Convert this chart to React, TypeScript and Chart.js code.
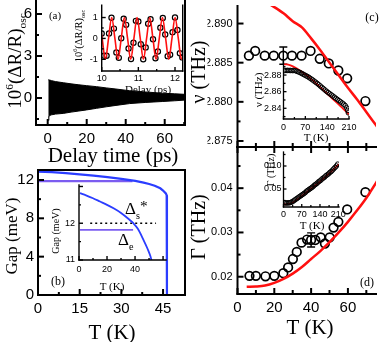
import React, { useEffect, useRef } from 'react';
import { Chart, registerables } from 'chart.js';
Chart.register(...registerables);

const W = 382, H = 342;
const SANS = "'Liberation Sans', Arial, sans-serif";
const SERIF = "'Liberation Serif', 'Times New Roman', serif";
const RED = '#ff1010';
const BLUE = '#2b3dff';
const PURPLE = '#7b5cf0';

// ---------- (a) main: oscillation envelope ----------
const A_T = [0.3, 0.6, 1, 2, 4, 8, 12, 16, 20, 25, 30, 35, 42, 50, 59, 65, 70.4];
const A_UP = [1.30, 1.30, 1.28, 1.24, 1.17, 1.09, 1.01, 0.94, 0.88, 0.81, 0.72, 0.64, 0.52, 0.43, 0.34, 0.30, 0.26];
const A_LO = [-1.60, -1.35, -1.25, -1.20, -1.15, -1.10, -1.01, -0.93, -0.85, -0.74, -0.63, -0.53, -0.40, -0.32, -0.25, -0.20, -0.15];
const A_XT = [0, 20, 40, 60];
const A_YT = [0, 3, 6];

// ---------- (a) inset ----------
const AI_T = [10.000, 10.067, 10.133, 10.200, 10.267, 10.333, 10.400, 10.467, 10.533, 10.600, 10.667, 10.733, 10.800, 10.867, 10.933, 11.000, 11.067, 11.133, 11.200, 11.267, 11.333, 11.400, 11.467, 11.533, 11.600, 11.667, 11.733, 11.800, 11.867, 11.933, 12.000, 12.067, 12.133, 12.200];
const AI_V = [0.24, -0.83, -0.83, 0.24, 0.99, 0.47, -0.67, -0.93, 0.01, 0.94, 0.65, -0.48, -0.99, -0.21, 0.84, 0.81, -0.28, -1.00, -0.43, 0.70, 0.92, -0.04, -0.95, -0.63, 0.51, 0.98, 0.19, -0.85, -0.78, 0.30, 1.00, 0.40, -0.71, -0.91];
const AI_FIT_T = [9.927, 10.013, 10.100, 10.187, 10.273, 10.360, 10.446, 10.533, 10.619, 10.706, 10.792, 10.879, 10.965, 11.052, 11.138, 11.225, 11.311, 11.398, 11.484, 11.571, 11.657, 11.744, 11.830, 11.917, 12.003, 12.090, 12.176, 12.263];
const AI_FIT = [1, 0, -1, 0, 1, 0, -1, 0, 1, 0, -1, 0, 1, 0, -1, 0, 1, 0, -1, 0, 1, 0, -1, 0, 1, 0, -1, 0];
const AI_XT = [10, 11, 12];
const AI_YT = [-1, 0, 1];

// ---------- (b) main ----------
const B_T = [0, 5, 10, 15, 20, 25, 30, 35, 38, 40, 42, 44, 45, 46, 46.3, 46.4];
const B_GAP = [12.87, 12.82, 12.72, 12.58, 12.45, 12.3, 12.12, 11.9, 11.72, 11.58, 11.4, 11.13, 10.9, 10.6, 10.4, 0];
const B_E_T = [0, 34];
const B_E = [11.88, 11.88];
const B_XT = [0, 15, 30, 45];
const B_YT = [0, 4, 8, 12];

// ---------- (b) inset ----------
const BI_T = [0.7, 5, 10, 15, 20, 25, 30, 35, 38.8, 42, 46, 49, 51, 52];
const BI_GAP = [12.82, 12.76, 12.68, 12.59, 12.5, 12.4, 12.28, 12.13, 12.0, 11.85, 11.55, 11.3, 11.1, 10.95];
const BI_DOT_T = [8, 55];
const BI_DOT = [12, 12];
const BI_E_T = [0.7, 38.6];
const BI_E = [11.82, 11.82];
const BI_XT = [0, 20, 40];
const BI_YT = [11, 12];

// ---------- (c) main ----------
const C_T = [6.2, 9.6, 14.8, 19.7, 24.9, 29.6, 34.8, 39.7, 44.7, 49.6, 54.8, 59.6, 69.5];
const C_NU = [2.8859, 2.8865, 2.8859, 2.8859, 2.8859, 2.8859, 2.8859, 2.8865, 2.8855, 2.8849, 2.8840, 2.8830, 2.8801];
const C_ERR = [0, 0, 0, 0, 0.0011, 0, 0, 0, 0, 0, 0, 0, 0];
const C_FIT_T = [15, 20, 25, 30, 35, 40, 45, 50, 55, 60, 65, 70, 75, 76];
const C_FIT = [2.8928, 2.8921, 2.8913, 2.8903, 2.8895, 2.8881, 2.8866, 2.8850, 2.8834, 2.8818, 2.8803, 2.8787, 2.8771, 2.8768];
const C_YT = [2.875, 2.880, 2.885, 2.890];

// ---------- (c) inset ----------
const CI_T = [3, 8, 13, 18, 23, 28, 33, 38, 43, 48, 53, 58, 63, 68, 73, 78, 83, 88, 93, 98, 103, 108, 113, 118, 123, 128, 133, 138, 143, 148, 153, 158, 163, 168, 173, 178, 183, 188, 193, 198, 203, 206, 208];
const CI_NU = [2.8855, 2.8855, 2.8856, 2.8855, 2.8855, 2.8854, 2.8855, 2.8853, 2.8845, 2.8838, 2.8830, 2.8820, 2.8810, 2.8800, 2.8790, 2.8780, 2.8768, 2.8755, 2.8742, 2.8728, 2.8714, 2.8700, 2.8684, 2.8668, 2.8652, 2.8636, 2.8620, 2.8604, 2.8590, 2.8576, 2.8562, 2.8548, 2.8534, 2.8520, 2.8506, 2.8492, 2.8478, 2.8464, 2.8450, 2.8432, 2.8405, 2.8375, 2.8345];
const CI_FIT_T = [0, 10, 20, 30, 40, 50, 60, 70, 80, 90, 100, 110, 120, 130, 140, 150, 160, 170, 180, 190, 200, 210];
const CI_FIT = [2.8930, 2.8928, 2.8920, 2.8905, 2.8885, 2.8862, 2.8837, 2.8810, 2.8780, 2.8748, 2.8715, 2.8680, 2.8645, 2.8610, 2.8575, 2.8540, 2.8505, 2.8470, 2.8435, 2.8400, 2.8363, 2.8325];
const CI_XT = [0, 70, 140, 210];
const CI_YT = [2.84, 2.86, 2.88];

// ---------- (d) main ----------
const D_T = [6.5, 10, 15.2, 20, 24.9, 27.5, 30.1, 32.2, 34.8, 37.8, 40, 42.3, 45.2, 47.5, 50.1, 52.2, 54.8, 59.6, 69.5];
const D_G = [0.0202, 0.0202, 0.0201, 0.0202, 0.0208, 0.0221, 0.0240, 0.0256, 0.0277, 0.0284, 0.0283, 0.0283, 0.0289, 0.0275, 0.0289, 0.0311, 0.0324, 0.0352, 0.0391];
const D_ERR = [0, 0, 0, 0, 0, 0, 0, 0, 0, 0, 0.0016, 0, 0, 0, 0, 0, 0, 0, 0];
const D_FIT_T = [5, 10, 15, 20, 25, 30, 35, 40, 45, 50, 55, 60, 65, 70, 75, 76];
const D_FIT = [0.01775, 0.0178, 0.0180, 0.0186, 0.0195, 0.0207, 0.0222, 0.0240, 0.0258, 0.0278, 0.0300, 0.0324, 0.0350, 0.0378, 0.0410, 0.0417];
const CD_XT = [0, 20, 40, 60];
const D_YT = [0.02, 0.03, 0.04];

// ---------- (d) inset ----------
const DI_T = [3, 8, 13, 18, 23, 28, 33, 38, 43, 48, 53, 58, 63, 68, 73, 78, 83, 88, 93, 98, 103, 108, 113, 118, 123, 128, 133, 138, 143, 148, 153, 158, 163, 168, 173, 178, 183, 188, 193, 198, 203, 208];
const DI_G = [0.020, 0.020, 0.0195, 0.020, 0.020, 0.021, 0.022, 0.024, 0.026, 0.028, 0.030, 0.032, 0.034, 0.036, 0.038, 0.040, 0.042, 0.045, 0.047, 0.049, 0.051, 0.053, 0.055, 0.058, 0.060, 0.062, 0.065, 0.067, 0.069, 0.072, 0.074, 0.076, 0.079, 0.081, 0.083, 0.086, 0.088, 0.091, 0.094, 0.097, 0.100, 0.104];
const DI_FIT_T = [0, 10, 20, 30, 40, 50, 60, 80, 100, 120, 140, 160, 180, 200, 213];
const DI_FIT = [0.017, 0.0168, 0.0175, 0.019, 0.022, 0.026, 0.030, 0.039, 0.048, 0.057, 0.066, 0.076, 0.086, 0.097, 0.104];
const DI_XT = [0, 70, 140, 210];
const DI_YT = [0.05, 0.10];

// ---------- helpers ----------
type Seg = { t: string; s?: number; dy?: number };
type TextDef = { x: number; y: number; segs: Seg[]; size: number; font?: string; rot?: boolean; align?: 'left' | 'center' | 'right' };
type TickDef = { major: number[]; minor: number[]; len: number; minorLen: number; sides: string[] };
type ErrDef = { x: number; y: number; e: number };
type PanelDef = {
  rect: { x0: number; y0: number; x1: number; y1: number };
  xMin: number; xMax: number; yMin: number; yMax: number;
  xLabels: number[]; yLabels: number[];
  xFmt: (v: number) => string; yFmt: (v: number) => string;
  xFont: number; yFont: number; xPad: number; yPad: number; showX: boolean;
  frame: string[]; frameWidth: number;
  xt: TickDef; yt: TickDef;
  texts: TextDef[];
  errors: ErrDef[];
  datasets: any[];
};

const pts = (xs: number[], ys: number[]) => xs.map((x, i) => ({ x, y: ys[i] }));
const errs = (xs: number[], ys: number[], es: number[]): ErrDef[] =>
  xs.map((x, i) => ({ x, y: ys[i], e: es[i] })).filter((d) => d.e > 0);
const txt = (t: string): Seg[] => [{ t }];

const circles = (data: any[], r: number, bw: number) => ({
  data, showLine: false, pointRadius: r, pointBorderWidth: bw, pointBorderColor: '#000',
  pointBackgroundColor: 'rgba(0,0,0,0)', pointStyle: 'circle', borderColor: '#000',
});
const curve = (data: any[], color: string, w: number, extra: any = {}) => ({
  data, showLine: true, borderColor: color, borderWidth: w, pointRadius: 0, fill: false,
  cubicInterpolationMode: 'monotone', ...extra,
});

function drawRich(ctx: CanvasRenderingContext2D, t: TextDef) {
  const fam = t.font || SERIF;
  ctx.save();
  ctx.translate(t.x, t.y);
  if (t.rot) ctx.rotate(-Math.PI / 2);
  ctx.fillStyle = '#000';
  ctx.textBaseline = 'alphabetic';
  ctx.textAlign = 'left';
  let total = 0;
  const widths = t.segs.map((s) => {
    ctx.font = `${t.size * (s.s || 1)}px ${fam}`;
    const w = ctx.measureText(s.t).width;
    total += w;
    return w;
  });
  let x = t.align === 'left' ? 0 : t.align === 'right' ? -total : -total / 2;
  const base = t.size * 0.35;
  t.segs.forEach((s, i) => {
    ctx.font = `${t.size * (s.s || 1)}px ${fam}`;
    ctx.fillText(s.t, x, base + (s.dy || 0) * t.size);
    x += widths[i];
  });
  ctx.restore();
}

function drawDeco(chart: any, def: PanelDef) {
  const ctx: CanvasRenderingContext2D = chart.ctx;
  const a = chart.chartArea;
  const xs = chart.scales.x, ys = chart.scales.y;
  ctx.save();
  ctx.strokeStyle = '#000';
  ctx.lineWidth = 1.4;
  for (const e of def.errors) {
    const px = xs.getPixelForValue(e.x);
    const p1 = ys.getPixelForValue(e.y + e.e);
    const p2 = ys.getPixelForValue(e.y - e.e);
    ctx.beginPath();
    ctx.moveTo(px, p1); ctx.lineTo(px, p2);
    ctx.moveTo(px - 4, p1); ctx.lineTo(px + 4, p1);
    ctx.moveTo(px - 4, p2); ctx.lineTo(px + 4, p2);
    ctx.stroke();
  }
  ctx.lineWidth = def.frameWidth;
  ctx.lineCap = 'butt';
  const tk = (sc: any, td: TickDef, isX: boolean) => {
    const all: [number, number][] = [
      ...td.major.map((v) => [v, td.len] as [number, number]),
      ...td.minor.map((v) => [v, td.minorLen] as [number, number]),
    ];
    for (const [v, L] of all) {
      if (v < sc.min - 1e-9 || v > sc.max + 1e-9) continue;
      const p = sc.getPixelForValue(v);
      for (const side of td.sides) {
        ctx.beginPath();
        if (isX && side === 'bottom') { ctx.moveTo(p, a.bottom); ctx.lineTo(p, a.bottom - L); }
        if (isX && side === 'top') { ctx.moveTo(p, a.top); ctx.lineTo(p, a.top + L); }
        if (!isX && side === 'left') { ctx.moveTo(a.left, p); ctx.lineTo(a.left + L, p); }
        if (!isX && side === 'right') { ctx.moveTo(a.right, p); ctx.lineTo(a.right - L, p); }
        ctx.stroke();
      }
    }
  };
  tk(xs, def.xt, true);
  tk(ys, def.yt, false);
  ctx.lineCap = 'square';
  for (const side of def.frame) {
    ctx.beginPath();
    if (side === 'left') { ctx.moveTo(a.left, a.top); ctx.lineTo(a.left, a.bottom); }
    if (side === 'right') { ctx.moveTo(a.right, a.top); ctx.lineTo(a.right, a.bottom); }
    if (side === 'top') { ctx.moveTo(a.left, a.top); ctx.lineTo(a.right, a.top); }
    if (side === 'bottom') { ctx.moveTo(a.left, a.bottom); ctx.lineTo(a.right, a.bottom); }
    ctx.stroke();
  }
  ctx.restore();
  for (const t of def.texts) drawRich(ctx, t);
}

function buildConfig(def: PanelDef) {
  const r = def.rect;
  const wy = Math.min(r.x0, 30);
  const hx = Math.min(H - r.y1, 30);
  return {
    type: 'line',
    data: { datasets: def.datasets },
    options: {
      animation: false,
      responsive: false,
      devicePixelRatio: 1,
      events: [],
      layout: { padding: { left: r.x0 - wy, top: r.y0, right: W - r.x1, bottom: H - r.y1 - hx } },
      plugins: { legend: { display: false }, tooltip: { enabled: false }, title: { display: false } },
      scales: {
        x: {
          type: 'linear', min: def.xMin, max: def.xMax,
          grid: { display: false, drawTicks: false }, border: { display: false },
          afterFit: (s: any) => { s.height = hx; s.paddingLeft = 0; s.paddingRight = 0; },
          afterBuildTicks: (s: any) => { s.ticks = def.xLabels.map((v) => ({ value: v })); },
          ticks: {
            display: def.showX, autoSkip: false, maxRotation: 0, minRotation: 0, padding: def.xPad,
            font: { family: SANS, size: def.xFont }, color: '#000',
            callback: (v: any) => def.xFmt(Number(v)),
          },
        },
        y: {
          type: 'linear', min: def.yMin, max: def.yMax,
          grid: { display: false, drawTicks: false }, border: { display: false },
          afterFit: (s: any) => { s.width = wy; s.paddingTop = 0; s.paddingBottom = 0; },
          afterBuildTicks: (s: any) => { s.ticks = def.yLabels.map((v) => ({ value: v })); },
          ticks: {
            autoSkip: false, padding: def.yPad,
            font: { family: SANS, size: def.yFont }, color: '#000',
            callback: (v: any) => def.yFmt(Number(v)),
          },
        },
      },
    },
    plugins: [{ id: 'deco', afterDatasetsDraw: (c: any) => drawDeco(c, def) }],
  };
}

const fInt = (v: number) => String(Math.round(v));
const f3 = (v: number) => v.toFixed(3);
const f2 = (v: number) => v.toFixed(2);
const dR: Seg[] = [
  { t: '10' }, { t: '6', s: 0.6, dy: -0.4 }, { t: '(ΔR/R)' }, { t: 'osc', s: 0.6, dy: 0.3 },
];

const PANELS: PanelDef[] = [
  // (a) main
  {
    rect: { x0: 36, y0: 0, x1: 185, y1: 125 },
    xMin: -6.0, xMax: 70.4, yMin: -1.93, yMax: 7.0,
    xLabels: A_XT, yLabels: A_YT, xFmt: fInt, yFmt: fInt,
    xFont: 15, yFont: 15, xPad: 5, yPad: 4, showX: true,
    frame: ['left', 'right', 'bottom'], frameWidth: 2,
    xt: { major: A_XT, minor: [10, 30, 50, 70], len: 6, minorLen: 3, sides: ['bottom'] },
    yt: { major: A_YT, minor: [-1.5, 1.5, 4.5], len: 6, minorLen: 3, sides: ['left'] },
    texts: [
      { x: 14, y: 61, segs: dR, size: 19, rot: true },
      { x: 113, y: 155, segs: txt('Delay time (ps)'), size: 21 },
      { x: 55, y: 15, segs: txt('(a)'), size: 11 },
    ],
    errors: [],
    datasets: [
      { data: pts(A_T, A_UP), showLine: true, borderColor: '#000', borderWidth: 1, pointRadius: 0, fill: '+1', backgroundColor: '#000' },
      { data: pts(A_T, A_LO), showLine: true, borderColor: '#000', borderWidth: 1, pointRadius: 0, fill: false },
    ],
  },
  // (b) main
  {
    rect: { x0: 38, y0: 170, x1: 185, y1: 295 },
    xMin: 0, xMax: 52.9, yMin: 0, yMax: 13.04,
    xLabels: B_XT, yLabels: B_YT, xFmt: fInt, yFmt: fInt,
    xFont: 15, yFont: 15, xPad: 5, yPad: 4, showX: true,
    frame: ['left', 'right', 'bottom', 'top'], frameWidth: 2,
    xt: { major: B_XT, minor: [7.5, 22.5, 37.5], len: 6, minorLen: 3, sides: ['bottom'] },
    yt: { major: B_YT, minor: [2, 6, 10], len: 6, minorLen: 3, sides: ['left'] },
    texts: [
      { x: 11, y: 236, segs: txt('Gap (meV)'), size: 17, rot: true },
      { x: 112, y: 332, segs: txt('T (K)'), size: 21 },
      { x: 58, y: 281, segs: txt('(b)'), size: 12 },
    ],
    errors: [],
    datasets: [
      curve(pts(B_T, B_GAP), BLUE, 2.2, { cubicInterpolationMode: 'default', tension: 0 }),
      curve(pts(B_E_T, B_E), PURPLE, 2.2),
    ],
  },
  // (c) main
  {
    rect: { x0: 237.5, y0: 0, x1: 382, y1: 147 },
    xMin: 0, xMax: 75.26, yMin: 2.87423, yMax: 2.89224,
    xLabels: CD_XT, yLabels: C_YT, xFmt: fInt, yFmt: f3,
    xFont: 15, yFont: 11, xPad: 5, yPad: 5, showX: false,
    frame: ['left', 'bottom'], frameWidth: 2,
    xt: { major: CD_XT, minor: [10, 30, 50, 70], len: 6, minorLen: 4, sides: ['bottom'] },
    yt: { major: C_YT, minor: [2.8775, 2.8825, 2.8875], len: 6, minorLen: 3, sides: ['left'] },
    texts: [
      { x: 198, y: 72, segs: txt('ν (THz)'), size: 20, rot: true },
      { x: 372, y: 17, segs: txt('(c)'), size: 12 },
    ],
    errors: errs(C_T, C_NU, C_ERR),
    datasets: [
      curve(pts(C_FIT_T, C_FIT), RED, 2.5),
      circles(pts(C_T, C_NU), 4.3, 1.7),
    ],
  },
  // (d) main
  {
    rect: { x0: 237.5, y0: 147, x1: 382, y1: 294 },
    xMin: 0, xMax: 75.26, yMin: 0.0161, yMax: 0.0493,
    xLabels: CD_XT, yLabels: D_YT, xFmt: fInt, yFmt: f2,
    xFont: 15, yFont: 11, xPad: 5, yPad: 5, showX: true,
    frame: ['left', 'bottom', 'top'], frameWidth: 2,
    xt: { major: CD_XT, minor: [10, 30, 50, 70], len: 6, minorLen: 4, sides: ['bottom', 'top'] },
    yt: { major: D_YT, minor: [0.025, 0.035, 0.045], len: 6, minorLen: 3, sides: ['left'] },
    texts: [
      { x: 198, y: 227, segs: txt('Γ (THz)'), size: 20, rot: true },
      { x: 310, y: 327, segs: txt('T (K)'), size: 21 },
      { x: 367, y: 282, segs: txt('(d)'), size: 12 },
    ],
    errors: errs(D_T, D_G, D_ERR),
    datasets: [
      curve(pts(D_FIT_T, D_FIT), RED, 2.5),
      circles(pts(D_T, D_G), 4.3, 1.7),
    ],
  },
  // (a) inset
  {
    rect: { x0: 101.7, y0: 0, x1: 182.7, y1: 71 },
    xMin: 10, xMax: 12.21, yMin: -1.56, yMax: 1.59,
    xLabels: AI_XT, yLabels: AI_YT, xFmt: fInt, yFmt: fInt,
    xFont: 9, yFont: 9, xPad: 2, yPad: 4, showX: true,
    frame: ['left', 'right', 'bottom'], frameWidth: 1.4,
    xt: { major: AI_XT, minor: [10.5, 11.5], len: 4, minorLen: 2, sides: ['bottom'] },
    yt: { major: AI_YT, minor: [-0.5, 0.5], len: 4, minorLen: 2, sides: ['left'] },
    texts: [
      { x: 78, y: 36, segs: dR, size: 10.5, rot: true },
      { x: 148, y: 89, segs: txt('Delay (ps)'), size: 11 },
    ],
    errors: [],
    datasets: [
      curve(pts(AI_FIT_T, AI_FIT), RED, 1.6, { cubicInterpolationMode: 'default', tension: 0.35 }),
      circles(pts(AI_T, AI_V), 2.6, 1.2),
    ],
  },
  // (b) inset
  {
    rect: { x0: 79, y0: 185, x1: 166, y1: 260 },
    xMin: 0, xMax: 62.1, yMin: 11, yMax: 13.04,
    xLabels: BI_XT, yLabels: BI_YT, xFmt: fInt, yFmt: fInt,
    xFont: 9, yFont: 9, xPad: 4, yPad: 4, showX: true,
    frame: ['left', 'bottom'], frameWidth: 1.4,
    xt: { major: [0, 20, 40, 60], minor: [10, 30, 50], len: 4, minorLen: 2, sides: ['bottom'] },
    yt: { major: [11, 12, 13], minor: [11.5, 12.5], len: 4, minorLen: 2, sides: ['left'] },
    texts: [
      { x: 55, y: 231, segs: txt('Gap (meV)'), size: 10, rot: true },
      { x: 112, y: 286, segs: txt('T (K)'), size: 11 },
      { x: 125, y: 208, segs: [{ t: 'Δ' }, { t: 's', s: 0.6, dy: 0.3 }, { t: '*', s: 0.9, dy: -0.2 }], size: 17, align: 'left' },
      { x: 118, y: 239, segs: [{ t: 'Δ' }, { t: 'e', s: 0.6, dy: 0.3 }], size: 17, align: 'left' },
    ],
    errors: [],
    datasets: [
      curve(pts(BI_T, BI_GAP), BLUE, 1.8),
      curve(pts(BI_DOT_T, BI_DOT), '#000', 1.5, { borderDash: [2, 3] }),
      curve(pts(BI_E_T, BI_E), PURPLE, 1.8),
    ],
  },
  // (c) inset
  {
    rect: { x0: 283.5, y0: 61, x1: 349, y1: 119 },
    xMin: 0, xMax: 210, yMin: 2.8271, yMax: 2.8969,
    xLabels: CI_XT, yLabels: CI_YT, xFmt: fInt, yFmt: f2,
    xFont: 9, yFont: 9, xPad: 3, yPad: 2, showX: true,
    frame: ['left', 'bottom'], frameWidth: 1.3,
    xt: { major: CI_XT, minor: [35, 105, 175], len: 3, minorLen: 2, sides: ['bottom'] },
    yt: { major: CI_YT, minor: [2.83, 2.85, 2.87, 2.89], len: 3, minorLen: 2, sides: ['left'] },
    texts: [
      { x: 258, y: 90, segs: txt('ν (THz)'), size: 11, rot: true },
      { x: 316, y: 137, segs: txt('T (K)'), size: 11 },
    ],
    errors: [],
    datasets: [
      circles(pts(CI_T, CI_NU), 2.3, 1),
      curve(pts(CI_FIT_T, CI_FIT), RED, 1.8),
    ],
  },
  // (d) inset
  {
    rect: { x0: 283.5, y0: 152, x1: 339, y1: 207 },
    xMin: 0, xMax: 213, yMin: 0.0109, yMax: 0.1304,
    xLabels: DI_XT, yLabels: DI_YT, xFmt: fInt, yFmt: f2,
    xFont: 9, yFont: 9, xPad: 2, yPad: 2, showX: true,
    frame: ['left', 'bottom'], frameWidth: 1.3,
    xt: { major: DI_XT, minor: [35, 105, 175], len: 3, minorLen: 2, sides: ['bottom'] },
    yt: { major: DI_YT, minor: [0.025, 0.075, 0.125], len: 3, minorLen: 2, sides: ['left'] },
    texts: [
      { x: 270, y: 170, segs: txt('Γ (THz)'), size: 10, rot: true },
      { x: 312, y: 225, segs: txt('T (K)'), size: 11 },
    ],
    errors: [],
    datasets: [
      circles(pts(DI_T, DI_G), 2.3, 1),
      curve(pts(DI_FIT_T, DI_FIT), RED, 1.8),
    ],
  },
];

function Panel({ def }: { def: PanelDef }) {
  const ref = useRef<HTMLCanvasElement>(null);
  useEffect(() => {
    const chart = new Chart(ref.current as HTMLCanvasElement, buildConfig(def) as any);
    return () => chart.destroy();
  }, [def]);
  return (
    <canvas
      ref={ref}
      width={W}
      height={H}
      style={{ position: 'absolute', left: 0, top: 0, width: W, height: H }}
    />
  );
}

export default function App() {
  return (
    <div style={{ position: 'absolute', left: 0, top: 0, width: W, height: H, background: '#fff', overflow: 'hidden' }}>
      {PANELS.map((d, i) => (
        <Panel key={i} def={d} />
      ))}
    </div>
  );
}
